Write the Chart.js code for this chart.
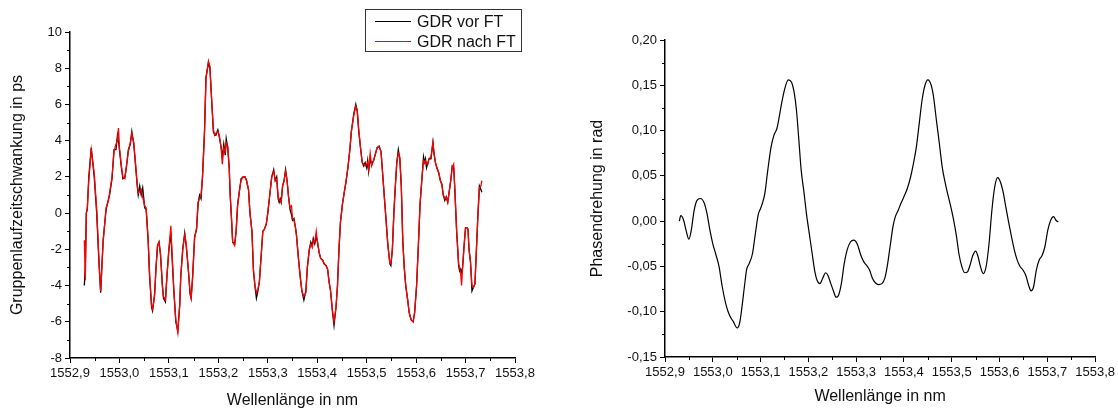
<!DOCTYPE html>
<html>
<head>
<meta charset="utf-8">
<script src="https://cdn.jsdelivr.net/npm/chart.js@4/dist/chart.umd.min.js"></script>
<style>
  html, body { margin: 0; padding: 0; background: #fff; }
  #wrap { position: relative; width: 1118px; height: 410px; }
  canvas { position: absolute; top: 0; }
</style>
</head>
<body>
<div id="wrap">
  <canvas id="gdr" width="560" height="410" style="left:0;width:560px;height:410px"></canvas>
  <canvas id="phase" width="558" height="410" style="left:560px;width:558px;height:410px"></canvas>
</div>
<script>
// Wavelength samples (nm) of the group delay ripple measurement
const wavelength = [
  1552.929, 1552.931, 1552.933, 1552.935, 1552.938, 1552.943, 1552.949, 1552.954, 1552.959, 1552.962,
  1552.967, 1552.973, 1552.978, 1552.980, 1552.985, 1552.989, 1552.993, 1552.996, 1552.998, 1553.000,
  1553.004, 1553.007, 1553.011, 1553.014, 1553.018, 1553.022, 1553.025, 1553.029, 1553.033, 1553.036,
  1553.038, 1553.041, 1553.044, 1553.047, 1553.051, 1553.054, 1553.058, 1553.061, 1553.065, 1553.067,
  1553.071, 1553.074, 1553.077, 1553.080, 1553.083, 1553.087, 1553.089, 1553.093, 1553.096, 1553.100,
  1553.104, 1553.106, 1553.110, 1553.114, 1553.118, 1553.122, 1553.124, 1553.128, 1553.132, 1553.135,
  1553.139, 1553.143, 1553.145, 1553.148, 1553.152, 1553.156, 1553.159, 1553.162, 1553.165, 1553.168,
  1553.172, 1553.175, 1553.180, 1553.183, 1553.187, 1553.190, 1553.193, 1553.195, 1553.199, 1553.202,
  1553.206, 1553.208, 1553.211, 1553.214, 1553.216, 1553.219, 1553.222, 1553.224, 1553.227, 1553.229,
  1553.233, 1553.236, 1553.239, 1553.243, 1553.246, 1553.250, 1553.254, 1553.257, 1553.261, 1553.264,
  1553.268, 1553.271, 1553.274, 1553.277, 1553.280, 1553.283, 1553.287, 1553.290, 1553.293, 1553.297,
  1553.300, 1553.304, 1553.308, 1553.312, 1553.315, 1553.318, 1553.321, 1553.323, 1553.325, 1553.327,
  1553.330, 1553.333, 1553.336, 1553.339, 1553.342, 1553.345, 1553.348, 1553.350, 1553.353, 1553.356,
  1553.358, 1553.362, 1553.366, 1553.369, 1553.373, 1553.377, 1553.380, 1553.384, 1553.387, 1553.390,
  1553.392, 1553.395, 1553.398, 1553.400, 1553.404, 1553.407, 1553.411, 1553.414, 1553.418, 1553.421,
  1553.424, 1553.427, 1553.431, 1553.434, 1553.438, 1553.441, 1553.444, 1553.447, 1553.451, 1553.455,
  1553.458, 1553.462, 1553.466, 1553.469, 1553.474, 1553.478, 1553.481, 1553.484, 1553.488, 1553.491,
  1553.494, 1553.497, 1553.500, 1553.502, 1553.504, 1553.507, 1553.510, 1553.514, 1553.518, 1553.521,
  1553.525, 1553.529, 1553.532, 1553.536, 1553.539, 1553.543, 1553.547, 1553.549, 1553.552, 1553.555,
  1553.558, 1553.561, 1553.564, 1553.567, 1553.570, 1553.573, 1553.576, 1553.579, 1553.583, 1553.586,
  1553.590, 1553.594, 1553.597, 1553.601, 1553.605, 1553.608, 1553.612, 1553.615, 1553.617, 1553.619,
  1553.621, 1553.624, 1553.626, 1553.630, 1553.634, 1553.636, 1553.639, 1553.642, 1553.646, 1553.649,
  1553.652, 1553.655, 1553.658, 1553.661, 1553.664, 1553.667, 1553.670, 1553.673, 1553.676, 1553.678,
  1553.682, 1553.686, 1553.688, 1553.690, 1553.692, 1553.694, 1553.697, 1553.700, 1553.703, 1553.705,
  1553.707, 1553.710, 1553.713, 1553.716, 1553.719, 1553.722, 1553.725, 1553.728, 1553.731, 1553.733
];

// Group delay ripple (ps) before the Fourier transform
const gdrVorFT = [
  -4.0, -3.0, 0.0, 0.2, 2.0, 3.6, 2.0, 0.0, -3.0, -4.4,
  -1.5, 0.2, 0.8, 1.0, 1.9, 3.5, 3.5, 4.3, 4.0, 3.5,
  2.5, 1.9, 2.0, 2.5, 3.5, 3.8, 4.5, 3.8, 2.5, 1.5,
  1.0, 1.5, 1.0, 1.4, 0.3, 0.2, -1.5, -3.5, -5.2, -5.4,
  -4.5, -3.0, -1.8, -1.6, -2.3, -4.0, -4.7, -4.9, -3.5, -2.0,
  -1.1, -2.2, -4.3, -6.0, -6.5, -5.0, -3.5, -2.0, -1.1, -1.8,
  -3.0, -4.5, -4.7, -3.5, -1.3, -0.9, 0.5, 1.0, 0.8, 2.0,
  4.5, 7.5, 8.3, 8.0, 6.0, 4.5, 4.3, 4.3, 4.6, 4.2,
  3.6, 3.0, 3.8, 3.2, 4.1, 3.6, 2.5, 1.0, -0.5, -1.6,
  -1.7, -1.0, 0.5, 1.3, 1.9, 2.0, 2.0, 1.8, 1.3, 0.0,
  -1.0, -3.2, -4.0, -4.7, -4.3, -3.8, -2.2, -1.0, -0.9, -0.6,
  0.0, 1.0, 2.0, 2.4, 1.8, 2.0, 0.8, 0.6, 0.8, 0.6,
  1.5, 1.8, 2.4, 1.8, 0.9, 0.2, -0.1, -0.4, -0.3, -0.8,
  -1.2, -2.5, -3.6, -4.3, -4.8, -4.3, -3.0, -2.0, -1.6, -1.8,
  -1.4, -1.7, -1.3, -1.5, -2.2, -2.5, -2.6, -2.8, -2.9, -3.1,
  -3.8, -4.3, -5.5, -6.2, -5.2, -4.0, -2.0, -0.5, 0.5, 1.2,
  1.7, 2.5, 3.5, 4.5, 5.5, 6.0, 5.6, 4.5, 3.5, 2.8,
  2.6, 2.8, 2.5, 2.9, 2.3, 3.0, 2.7, 2.9, 3.3, 3.6,
  3.7, 3.4, 2.3, 0.8, -0.3, -1.8, -2.8, -2.9, -2.0, 0.0,
  1.5, 2.8, 3.5, 3.0, 1.5, -1.5, -3.0, -4.0, -4.8, -5.5,
  -5.9, -6.0, -5.5, -4.0, -1.5, 0.5, 2.0, 3.1, 2.8, 3.0,
  2.5, 2.8, 3.0, 3.0, 3.9, 3.3, 2.8, 2.5, 2.2, 1.8,
  1.6, 1.0, 0.7, 0.9, 0.6, 1.2, 1.8, 2.6, 2.5, 1.5,
  -1.0, -2.9, -3.2, -3.1, -3.3, -3.0, -1.8, -0.8, -0.8, -0.9,
  -2.0, -2.7, -4.3, -4.1, -3.9, -2.0, -0.1, 1.5, 1.3, 1.15
];

// Group delay ripple (ps) after the Fourier transform
const gdrNachFT = [
  -1.5, -3.7, 0.0, 0.3, 1.8, 3.5, 2.2, 0.2, -2.8, -4.3,
  -1.6, 0.3, 0.7, 1.1, 2.0, 3.4, 3.8, 4.0, 4.7, 3.6,
  2.6, 2.0, 1.9, 2.6, 3.4, 3.9, 4.4, 3.9, 2.6, 1.6,
  1.1, 1.2, 1.3, 0.9, 0.4, 0.3, -1.4, -3.4, -5.1, -5.3,
  -4.6, -3.0, -1.8, -1.6, -2.2, -4.1, -4.6, -4.8, -3.5, -2.0,
  -0.7, -2.0, -4.2, -5.9, -6.6, -5.1, -3.5, -2.0, -1.2, -1.7,
  -3.0, -4.4, -4.7, -3.6, -1.4, -0.8, 0.6, 0.8, 1.0, 2.0,
  4.4, 7.4, 8.4, 8.1, 6.0, 4.6, 4.3, 4.4, 4.5, 4.3,
  3.5, 2.7, 3.6, 3.4, 3.9, 3.7, 2.5, 1.0, -0.5, -1.6,
  -1.8, -1.0, 0.4, 1.3, 1.8, 2.0, 2.0, 1.8, 1.3, 0.0,
  -1.0, -3.1, -4.0, -4.4, -4.2, -3.8, -2.2, -1.0, -0.9, -0.6,
  0.0, 1.0, 2.0, 2.3, 1.8, 1.9, 0.9, 0.7, 0.7, 0.6,
  1.5, 1.8, 2.3, 1.8, 0.9, 0.3, 0.4, -0.3, -0.4, -0.8,
  -1.2, -2.5, -3.6, -4.3, -4.6, -4.4, -3.0, -2.0, -1.7, -1.9,
  -1.5, -1.6, -1.0, -1.5, -2.2, -2.5, -2.6, -2.8, -2.9, -3.1,
  -3.8, -4.3, -5.4, -6.0, -5.2, -4.0, -2.0, -0.5, 0.5, 1.2,
  1.7, 2.5, 3.5, 4.5, 5.4, 5.9, 5.7, 4.6, 3.5, 2.8,
  2.7, 2.6, 2.7, 2.8, 2.4, 3.3, 2.6, 2.9, 3.3, 3.6,
  3.7, 3.4, 2.3, 0.8, -0.3, -1.8, -2.8, -2.8, -2.0, 0.0,
  1.5, 2.8, 3.3, 3.1, 1.6, -1.5, -3.0, -4.0, -4.8, -5.5,
  -5.9, -6.0, -5.5, -4.0, -1.5, 0.5, 2.0, 2.9, 2.8, 2.9,
  2.7, 2.7, 3.0, 3.1, 3.9, 3.4, 2.8, 2.5, 2.2, 1.8,
  1.6, 1.0, 0.8, 0.9, 0.6, 1.2, 1.8, 2.5, 2.7, 1.5,
  -1.0, -2.8, -3.0, -3.3, -4.0, -3.0, -1.8, -0.8, -0.8, -0.9,
  -2.0, -2.7, -4.0, -4.1, -3.9, -2.0, -0.1, 1.4, 1.5, 1.8
];

// Phase rotation (rad) over wavelength (nm)
const phaseWavelength = [
  1552.930, 1552.933, 1552.939, 1552.944, 1552.950, 1552.955, 1552.961, 1552.967, 1552.974, 1552.982,
  1552.988, 1552.994, 1553.000, 1553.006, 1553.013, 1553.020, 1553.028, 1553.035, 1553.043, 1553.051,
  1553.056, 1553.061, 1553.066, 1553.071, 1553.076, 1553.083, 1553.089, 1553.095, 1553.100, 1553.104,
  1553.109, 1553.115, 1553.122, 1553.128, 1553.134, 1553.139, 1553.144, 1553.150, 1553.158, 1553.165,
  1553.170, 1553.175, 1553.180, 1553.185, 1553.191, 1553.196, 1553.202, 1553.208, 1553.213, 1553.218,
  1553.224, 1553.230, 1553.236, 1553.241, 1553.247, 1553.253, 1553.258, 1553.263, 1553.269, 1553.275,
  1553.281, 1553.288, 1553.295, 1553.302, 1553.310, 1553.316, 1553.322, 1553.328, 1553.334, 1553.340,
  1553.347, 1553.354, 1553.360, 1553.365, 1553.371, 1553.377, 1553.382, 1553.388, 1553.394, 1553.400,
  1553.407, 1553.414, 1553.420, 1553.426, 1553.432, 1553.438, 1553.444, 1553.450, 1553.457, 1553.462,
  1553.468, 1553.474, 1553.480, 1553.486, 1553.492, 1553.498, 1553.504, 1553.510, 1553.515, 1553.521,
  1553.527, 1553.533, 1553.538, 1553.544, 1553.550, 1553.555, 1553.560, 1553.566, 1553.572, 1553.578,
  1553.584, 1553.590, 1553.596, 1553.602, 1553.608, 1553.613, 1553.619, 1553.625, 1553.631, 1553.637,
  1553.643, 1553.649, 1553.655, 1553.661, 1553.666, 1553.671, 1553.677, 1553.683, 1553.689, 1553.695,
  1553.701, 1553.707, 1553.713, 1553.718, 1553.723
];
const phaseRad = [
  0.000, 0.006, 0.001, -0.010, -0.020, -0.010, 0.012, 0.023, 0.025, 0.020,
  0.008, -0.010, -0.025, -0.036, -0.050, -0.073, -0.093, -0.104, -0.111, -0.118,
  -0.113, -0.095, -0.073, -0.053, -0.047, -0.036, -0.014, 0.007, 0.014, 0.020,
  0.031, 0.056, 0.082, 0.095, 0.102, 0.115, 0.130, 0.145, 0.156, 0.153,
  0.143, 0.123, 0.090, 0.056, 0.031, 0.008, -0.014, -0.036, -0.054, -0.065,
  -0.069, -0.063, -0.057, -0.060, -0.069, -0.078, -0.084, -0.082, -0.069, -0.047,
  -0.032, -0.023, -0.021, -0.025, -0.038, -0.045, -0.049, -0.054, -0.063, -0.068,
  -0.070, -0.069, -0.063, -0.050, -0.028, -0.006, 0.005, 0.012, 0.020, 0.027,
  0.036, 0.049, 0.064, 0.082, 0.108, 0.134, 0.150, 0.156, 0.150, 0.137,
  0.111, 0.086, 0.060, 0.043, 0.029, 0.016, 0.001, -0.017, -0.036, -0.050,
  -0.057, -0.056, -0.049, -0.038, -0.033, -0.039, -0.050, -0.058, -0.050, -0.025,
  0.012, 0.038, 0.048, 0.043, 0.031, 0.016, -0.001, -0.017, -0.032, -0.043,
  -0.050, -0.054, -0.060, -0.071, -0.077, -0.073, -0.054, -0.043, -0.038, -0.028,
  -0.010, 0.001, 0.005, 0.001, -0.001
];

// Axis tick values
const xTicks = [1552.9, 1553.0, 1553.1, 1553.2, 1553.3, 1553.4, 1553.5, 1553.6, 1553.7, 1553.8];
const gdrTicks = [-8, -6, -4, -2, 0, 2, 4, 6, 8, 10];
const phaseTicks = [-0.15, -0.10, -0.05, 0.00, 0.05, 0.10, 0.15, 0.20];

const FONT = 'Arial, "Liberation Sans", sans-serif';
Chart.defaults.font.family = FONT;
Chart.defaults.color = '#111';
Chart.defaults.animation = false;

const toPoints = (xs, ys) => xs.map((x, i) => ({ x, y: ys[i] }));
const commaFmt = digits => v => Number(v).toFixed(digits).replace('.', ',');

// Short intermediate ticks halfway between the labelled ones
const minorTicks = {
  id: 'minorTicks',
  afterDraw(chart, args, opts) {
    const { ctx, chartArea: a, scales } = chart;
    const mids = arr => arr.slice(1).map((v, i) => (v + arr[i]) / 2);
    ctx.save();
    ctx.strokeStyle = '#000';
    ctx.lineWidth = 1;
    ctx.beginPath();
    mids(opts.x).forEach(v => {
      const p = Math.round(scales.x.getPixelForValue(v)) + 0.5;
      ctx.moveTo(p, a.bottom);
      ctx.lineTo(p, a.bottom + 3);
    });
    mids(opts.y).forEach(v => {
      const p = Math.round(scales.y.getPixelForValue(v)) + 0.5;
      ctx.moveTo(a.left, p);
      ctx.lineTo(a.left - 3, p);
    });
    ctx.stroke();
    ctx.restore();
  }
};

// Framed legend box in the upper right corner
const boxLegend = {
  id: 'boxLegend',
  afterDraw(chart, args, o) {
    if (!o.show) return;
    const ctx = chart.ctx;
    ctx.save();
    ctx.fillStyle = '#fff';
    ctx.fillRect(o.left, o.top, o.width, o.height);
    ctx.strokeStyle = '#333';
    ctx.lineWidth = 1;
    ctx.strokeRect(o.left + 0.5, o.top + 0.5, o.width, o.height);
    ctx.font = '16px ' + FONT;
    ctx.textBaseline = 'middle';
    chart.data.datasets.forEach((ds, i) => {
      const y = Math.round(o.top + 12 + i * 20) + 0.5;
      ctx.strokeStyle = ds.borderColor;
      ctx.beginPath();
      ctx.moveTo(o.left + 10, y);
      ctx.lineTo(o.left + 46, y);
      ctx.stroke();
      ctx.fillStyle = '#111';
      ctx.fillText(ds.label, o.left + 52, y + 1);
    });
    ctx.restore();
  }
};

function axisCommon() {
  return {
    type: 'linear',
    border: { display: true, color: '#000', width: 1.5 },
    grid: { display: true, drawOnChartArea: false, drawTicks: true, tickLength: 5, tickColor: '#000', tickWidth: 1 },
    ticks: { font: { size: 13 }, color: '#111', padding: 3, autoSkip: false, maxRotation: 0 }
  };
}

function makeScales(yTicks, yFmt, yTitle, yWidth, xHeight, yTitlePad, xTitlePad) {
  const x = axisCommon();
  Object.assign(x, {
    min: xTicks[0], max: xTicks[xTicks.length - 1],
    afterBuildTicks: s => { s.ticks = xTicks.map(v => ({ value: v })); },
    afterFit: s => { s.height = xHeight; },
    title: { display: true, text: 'Wellenlänge in nm', font: { size: 16 }, color: '#111', padding: { top: 0, bottom: xTitlePad } }
  });
  x.ticks.callback = commaFmt(1);
  const y = axisCommon();
  Object.assign(y, {
    min: yTicks[0], max: yTicks[yTicks.length - 1],
    afterBuildTicks: s => { s.ticks = yTicks.map(v => ({ value: v })); },
    afterFit: s => { s.width = yWidth; },
    title: { display: true, text: yTitle, font: { size: 16 }, color: '#111', padding: { top: yTitlePad, bottom: 0 } }
  });
  y.ticks.callback = yFmt;
  return { x, y };
}

new Chart(document.getElementById('gdr'), {
  type: 'line',
  data: {
    datasets: [
      { label: 'GDR vor FT', data: toPoints(wavelength, gdrVorFT), borderColor: '#000000', borderWidth: 1.3, pointRadius: 0, tension: 0, order: 1 },
      { label: 'GDR nach FT', data: toPoints(wavelength, gdrNachFT), borderColor: '#ff0000', borderWidth: 1.3, pointRadius: 0, tension: 0, order: 0 }
    ]
  },
  options: {
    responsive: false,
    layout: { padding: { left: 0, right: 45, top: 32, bottom: 0 } },
    scales: makeScales(gdrTicks, v => String(v), 'Gruppenlaufzeitschwankung in ps', 70, 52, 8, 0),
    plugins: {
      legend: { display: false },
      tooltip: { enabled: false },
      minorTicks: { x: xTicks, y: gdrTicks },
      boxLegend: { show: true, left: 365, top: 9, width: 156, height: 42 }
    }
  },
  plugins: [minorTicks, boxLegend]
});

new Chart(document.getElementById('phase'), {
  type: 'line',
  data: {
    datasets: [
      { label: 'Phasendrehung', data: toPoints(phaseWavelength, phaseRad), borderColor: '#000000', borderWidth: 1.2, pointRadius: 0, cubicInterpolationMode: 'monotone' }
    ]
  },
  options: {
    responsive: false,
    layout: { padding: { left: 0, right: 20, top: 40, bottom: 0 } },
    scales: makeScales(phaseTicks, commaFmt(2), 'Phasendrehung in rad', 105, 53, 28, 4),
    plugins: {
      legend: { display: false },
      tooltip: { enabled: false },
      minorTicks: { x: xTicks, y: phaseTicks },
      boxLegend: { show: false }
    }
  },
  plugins: [minorTicks, boxLegend]
});
</script>
</body>
</html>
